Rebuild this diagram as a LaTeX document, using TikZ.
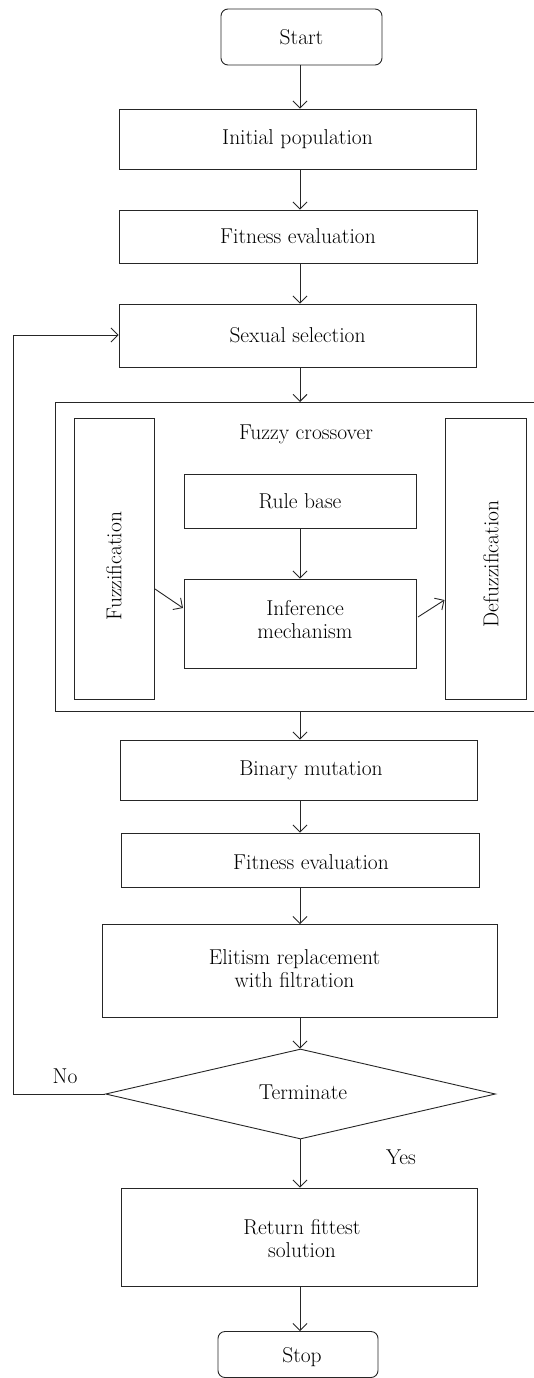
\documentclass[tikz,border=0pt]{standalone}
\usetikzlibrary{arrows.meta,shapes.geometric}
\begin{document}
\begin{tikzpicture}[x=1pt,y=-1pt,
  lw/.style={line width=0.9pt,draw=black!85},
  box/.style={lw,rectangle,inner sep=0pt,align=center,font=\fontsize{21.5}{23}\selectfont},
  term/.style={box,rounded corners=7pt},
  txt/.style={inner sep=0pt,align=center,font=\fontsize{21.5}{23}\selectfont},
  arr/.style={lw,-{Straight Barb[length=7pt,width=14pt,line width=0.9pt]}},
  ln/.style={lw}]
\useasboundingbox (0,0) rectangle (533,1378);
% outer fuzzy crossover box
\draw[lw] (55,402) rectangle (540,711) coordinate (fcbr);
\coordinate (fctop) at (300,402);
\coordinate (fcbot) at (300,711);
\node[txt] (fctxt) at (306,434) {Fuzzy crossover};

\node[term,minimum width=161pt,minimum height=56pt] (start) at (301.5,37) {Start};
\node[box,minimum width=357pt,minimum height=60pt] (init) at (297.5,139) {Initial population};
\node[box,minimum width=358pt,minimum height=53pt] (fit1) at (298,236.5) {Fitness evaluation};
\node[box,minimum width=357pt,minimum height=63pt] (sel) at (297.5,335.5) {Sexual selection};

\node[box,minimum width=80pt,minimum height=281pt] (fuz) at (114,558.5) {};
\node[txt,rotate=90] (fuztxt) at (114,566) {Fuzzification};
\node[box,minimum width=81pt,minimum height=281pt] (defuz) at (485.5,558.5) {};
\node[txt,rotate=90] (defuztxt) at (491,564) {Defuzzification};
\node[box,minimum width=232pt,minimum height=54pt] (rule) at (300,501) {Rule base};
\node[box,minimum width=232pt,minimum height=89pt] (inf) at (300,623.5) {};
\node[txt] (inftxt) at (305,620) {Inference\\mechanism};

\node[box,minimum width=357pt,minimum height=60pt] (mut) at (298.5,770) {};
\node[txt] (muttxt) at (311,770) {Binary mutation};
\node[box,minimum width=358pt,minimum height=54pt] (fit2) at (300,860) {};
\node[txt] (fit2txt) at (311,862) {Fitness evaluation};
\node[box,minimum width=395pt,minimum height=93pt] (elit) at (299.5,971) {};
\node[txt] (elittxt) at (294.5,969) {Elitism replacement\\with filtration};

\node[lw,diamond,aspect=4.33,inner sep=0pt,minimum width=390pt,minimum height=90pt] (term) at (300.5,1094) {};
\node[txt] (termtxt) at (303,1092) {Terminate};
\node[box,minimum width=356pt,minimum height=98pt] (ret) at (299,1237) {};
\node[txt] (rettxt) at (302,1238.5) {Return fittest\\solution};
\node[term,minimum width=160pt,minimum height=46pt] (stop) at (298,1354.5) {};
\node[txt] (stoptxt) at (302,1357) {Stop};

\node[txt] (no) at (65,1076) {No};
\node[txt] (yes) at (401,1157) {Yes};

\draw[arr] (start.south -| 300,0) -- (init.north -| 300,0);
\draw[arr] (init.south -| 300,0) -- (fit1.north -| 300,0);
\draw[arr] (fit1.south -| 300,0) -- (sel.north -| 300,0);
\draw[arr] (sel.south -| 300,0) -- (fctop);
\draw[arr] (rule.south) -- (inf.north);
\draw[arr] (155,589) -- (183,608);
\draw[arr] (418,617) -- (444.5,600);
\draw[arr] (fcbot) -- (mut.north -| 300,0);
\draw[arr] (mut.south -| 300,0) -- (fit2.north -| 300,0);
\draw[arr] (fit2.south -| 300,0) -- (elit.north -| 300,0);
\draw[arr] (elit.south -| 300,0) -- (term.north -| 300,0);
\draw[arr] (term.south -| 300,0) -- (ret.north -| 300,0);
\draw[arr] (ret.south -| 300,0) -- (stop.north -| 300,0);
\coordinate (fbl) at (13,1094);
\coordinate (ftl) at (13,335);
\draw[arr] (term.west) -- (fbl) -- (ftl) -- (sel.west |- ftl);
\end{tikzpicture}
\end{document}
